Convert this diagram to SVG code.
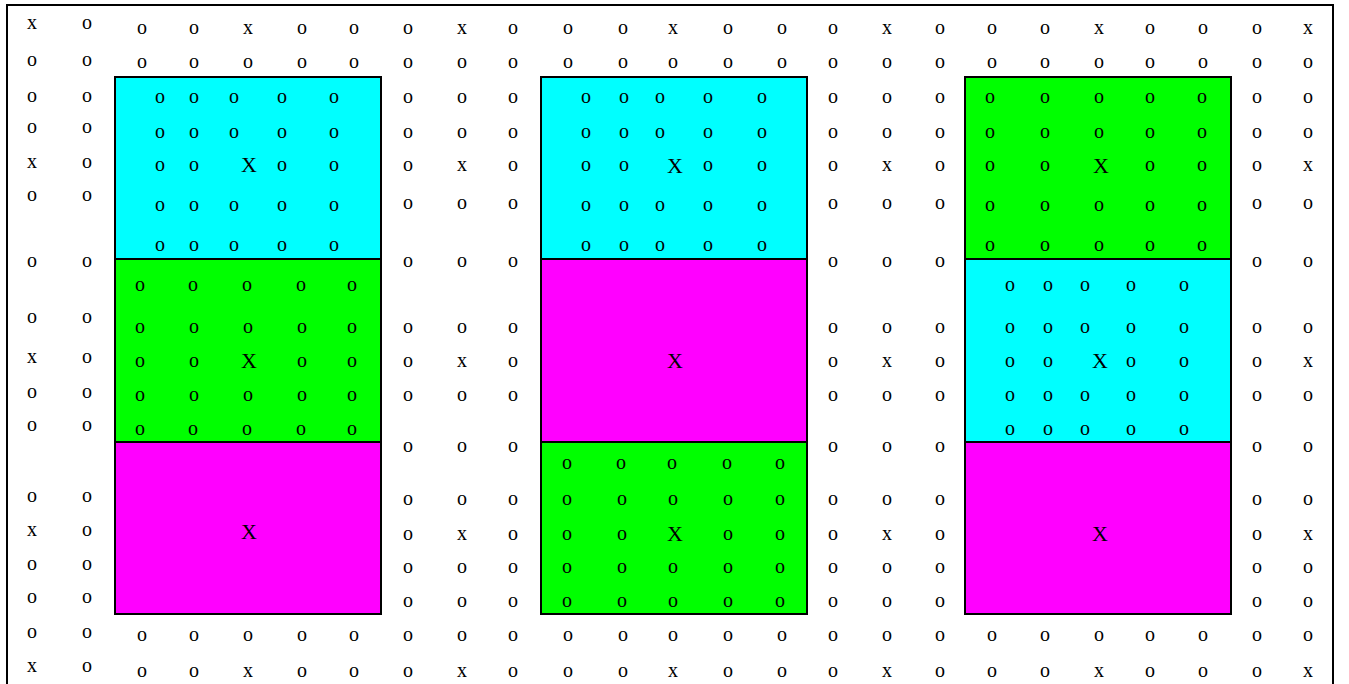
<svg xmlns="http://www.w3.org/2000/svg" width="1349" height="684" viewBox="0 0 1349 684">
<style>
text{font-family:"Liberation Serif","Times New Roman",serif;fill:#000}
.s{font-size:20px;text-anchor:middle}
.b{font-size:22px;text-anchor:middle}
.box{stroke:#000;stroke-width:2}
.c{fill:#00ffff}.g{fill:#00ff00}.m{fill:#ff00ff}
</style>
<rect id="frame" x="7" y="5" width="1326" height="700" fill="#fff" stroke="#000" stroke-width="2"/>
<g id="outer-grid">
<g id="left-columns">
<text class="s" x="32 87" y="28.5">xo</text>
<text class="s" x="32 87" y="65.5">oo</text>
<text class="s" x="32 87" y="101.5">oo</text>
<text class="s" x="32 87" y="132.5">oo</text>
<text class="s" x="32 87" y="167.5">xo</text>
<text class="s" x="32 87" y="200.5">oo</text>
<text class="s" x="32 87" y="266.5">oo</text>
<text class="s" x="32 87" y="322.5">oo</text>
<text class="s" x="32 87" y="362.5">xo</text>
<text class="s" x="32 87" y="397.5">oo</text>
<text class="s" x="32 87" y="430.5">oo</text>
<text class="s" x="32 87" y="501.5">oo</text>
<text class="s" x="32 87" y="535.5">xo</text>
<text class="s" x="32 87" y="569.5">oo</text>
<text class="s" x="32 87" y="602.5">oo</text>
<text class="s" x="32 87" y="637.5">oo</text>
<text class="s" x="32 87" y="671.5">xo</text>
</g>
<g id="top-rows">
<text class="s" x="142 194 248 302 354 408 462 513 568 623 673 728 782 833 887 940 992 1045 1099 1150 1203 1257 1308" y="33.5">ooxoooxoooxoooxoooxooox</text>
<text class="s" x="142 194 248 302 354 408 462 513 568 623 673 728 782 833 887 940 992 1045 1099 1150 1203 1257 1308" y="67.5">ooooooooooooooooooooooo</text>
</g>
<g id="bottom-rows">
<text class="s" x="142 194 248 302 354 408 462 513 568 623 673 728 782 833 887 940 992 1045 1099 1150 1203 1257 1308" y="640.5">ooooooooooooooooooooooo</text>
<text class="s" x="142 194 248 302 354 408 462 513 568 623 673 728 782 833 887 940 992 1045 1099 1150 1203 1257 1308" y="676.5">ooxoooxoooxoooxoooxooox</text>
</g>
<g id="gap1">
<text class="s" x="408 462 513" y="102.5">ooo</text>
<text class="s" x="408 462 513" y="137.5">ooo</text>
<text class="s" x="408 462 513" y="170.5">oxo</text>
<text class="s" x="408 462 513" y="208.5">ooo</text>
<text class="s" x="408 462 513" y="266.5">ooo</text>
<text class="s" x="408 462 513" y="332.5">ooo</text>
<text class="s" x="408 462 513" y="366.5">oxo</text>
<text class="s" x="408 462 513" y="400.5">ooo</text>
<text class="s" x="408 462 513" y="451.5">ooo</text>
<text class="s" x="408 462 513" y="504.5">ooo</text>
<text class="s" x="408 462 513" y="539.5">oxo</text>
<text class="s" x="408 462 513" y="572.5">ooo</text>
<text class="s" x="408 462 513" y="606.5">ooo</text>
</g>
<g id="gap2">
<text class="s" x="833 887 940" y="102.5">ooo</text>
<text class="s" x="833 887 940" y="137.5">ooo</text>
<text class="s" x="833 887 940" y="170.5">oxo</text>
<text class="s" x="833 887 940" y="208.5">ooo</text>
<text class="s" x="833 887 940" y="266.5">ooo</text>
<text class="s" x="833 887 940" y="332.5">ooo</text>
<text class="s" x="833 887 940" y="366.5">oxo</text>
<text class="s" x="833 887 940" y="400.5">ooo</text>
<text class="s" x="833 887 940" y="451.5">ooo</text>
<text class="s" x="833 887 940" y="504.5">ooo</text>
<text class="s" x="833 887 940" y="539.5">oxo</text>
<text class="s" x="833 887 940" y="572.5">ooo</text>
<text class="s" x="833 887 940" y="606.5">ooo</text>
</g>
<g id="gap3">
<text class="s" x="1257 1308" y="102.5">oo</text>
<text class="s" x="1257 1308" y="137.5">oo</text>
<text class="s" x="1257 1308" y="170.5">ox</text>
<text class="s" x="1257 1308" y="208.5">oo</text>
<text class="s" x="1257 1308" y="266.5">oo</text>
<text class="s" x="1257 1308" y="332.5">oo</text>
<text class="s" x="1257 1308" y="366.5">ox</text>
<text class="s" x="1257 1308" y="400.5">oo</text>
<text class="s" x="1257 1308" y="451.5">oo</text>
<text class="s" x="1257 1308" y="504.5">oo</text>
<text class="s" x="1257 1308" y="539.5">ox</text>
<text class="s" x="1257 1308" y="572.5">oo</text>
<text class="s" x="1257 1308" y="606.5">oo</text>
</g>
</g>
<g id="box1-cyan">
<rect class="box c" x="115" y="77" width="266" height="182"/>
<text class="s" x="160 194 234 282 334" y="102.5">ooooo</text>
<text class="s" x="160 194 234 282 334" y="137.5">ooooo</text>
<text class="s" x="160 194" y="170.5">oo</text>
<text class="b" x="249" y="172">X</text>
<text class="s" x="282 334" y="170.5">oo</text>
<text class="s" x="160 194 234 282 334" y="210.5">ooooo</text>
<text class="s" x="160 194 234 282 334" y="250.5">ooooo</text>
</g>
<g id="box1-green">
<rect class="box g" x="115" y="259" width="266" height="183"/>
<text class="s" x="140 193 247 301 352" y="290.5">ooooo</text>
<text class="s" x="140 194 248 302 352" y="332.5">ooooo</text>
<text class="s" x="140 194" y="366.5">oo</text>
<text class="b" x="249" y="367.5">X</text>
<text class="s" x="302 352" y="366.5">oo</text>
<text class="s" x="140 194 248 302 352" y="400.5">ooooo</text>
<text class="s" x="140 193 247 301 352" y="434.5">ooooo</text>
</g>
<g id="box1-magenta">
<rect class="box m" x="115" y="442" width="266" height="172"/>
<text class="b" x="249" y="538.5">X</text>
</g>
<g id="box2-cyan">
<rect class="box c" x="541" y="77" width="266" height="182"/>
<text class="s" x="586 624 660 708 762" y="102.5">ooooo</text>
<text class="s" x="586 624 660 708 762" y="137.5">ooooo</text>
<text class="s" x="586 624" y="170.5">oo</text>
<text class="b" x="675" y="173">X</text>
<text class="s" x="708 762" y="170.5">oo</text>
<text class="s" x="586 624 660 708 762" y="210.5">ooooo</text>
<text class="s" x="586 624 660 708 762" y="250.5">ooooo</text>
</g>
<g id="box2-magenta">
<rect class="box m" x="541" y="259" width="266" height="183"/>
<text class="b" x="675" y="367.5">X</text>
</g>
<g id="box2-green">
<rect class="box g" x="541" y="442" width="266" height="172"/>
<text class="s" x="567 621 672 727 780" y="468.5">ooooo</text>
<text class="s" x="567 622 673 728 780" y="504.5">ooooo</text>
<text class="s" x="567 622" y="539.5">oo</text>
<text class="b" x="675" y="540.5">X</text>
<text class="s" x="728 780" y="539.5">oo</text>
<text class="s" x="567 622 673 728 780" y="572.5">ooooo</text>
<text class="s" x="567 622 673 728 780" y="606.5">ooooo</text>
</g>
<g id="box3-green">
<rect class="box g" x="965" y="77" width="266" height="182"/>
<text class="s" x="990 1045 1099 1150 1202" y="102.5">ooooo</text>
<text class="s" x="990 1045 1099 1150 1202" y="137.5">ooooo</text>
<text class="s" x="990 1045" y="170.5">oo</text>
<text class="b" x="1101" y="173">X</text>
<text class="s" x="1150 1202" y="170.5">oo</text>
<text class="s" x="990 1045 1099 1150 1202" y="210.5">ooooo</text>
<text class="s" x="990 1045 1099 1150 1202" y="250.5">ooooo</text>
</g>
<g id="box3-cyan">
<rect class="box c" x="965" y="259" width="266" height="183"/>
<text class="s" x="1010 1048 1085 1131 1184" y="290.5">ooooo</text>
<text class="s" x="1010 1048 1085 1131 1184" y="332.5">ooooo</text>
<text class="s" x="1010 1048" y="366.5">oo</text>
<text class="b" x="1100" y="367.5">X</text>
<text class="s" x="1131 1184" y="366.5">oo</text>
<text class="s" x="1010 1048 1085 1131 1184" y="400.5">ooooo</text>
<text class="s" x="1010 1048 1085 1131 1184" y="434.5">ooooo</text>
</g>
<g id="box3-magenta">
<rect class="box m" x="965" y="442" width="266" height="172"/>
<text class="b" x="1100" y="540.5">X</text>
</g>
<g id="connectors"></g>
</svg>
